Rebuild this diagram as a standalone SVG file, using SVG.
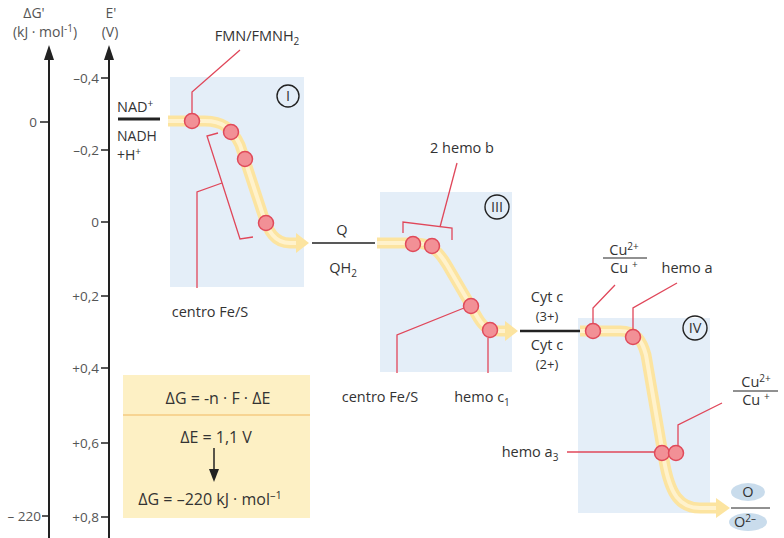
<svg xmlns="http://www.w3.org/2000/svg" width="784" height="538" viewBox="0 0 784 538">
<defs>
<style>
text{font-family:"Open Sans","Liberation Sans",sans-serif;fill:#333;}
.lab{font-size:14.5px;}
.ax{font-size:13.5px;fill:#555;text-anchor:end;}
.mid{text-anchor:middle;}
.box{fill:#e4eef8;}
.ypath{fill:none;stroke:#fce4a0;stroke-width:11;stroke-linejoin:round;}
.yin{fill:none;stroke:#fff2cc;stroke-width:4;stroke-linejoin:round;}
.yhead{fill:#fce4a0;}
.red{fill:none;stroke:#e0475a;stroke-width:1.3;}
.dot{fill:#f29096;stroke:#e04a5a;stroke-width:1.5;}
.num{fill:none;stroke:#222;stroke-width:1.4;}
.sup{font-size:10px;}
</style>
</defs>
<rect width="784" height="538" fill="#fff"/>

<g id="axes">
<line x1="49" y1="538" x2="49" y2="58" stroke="#222" stroke-width="2"/>
<polygon points="44,60 49,45 54,60" fill="#222"/>
<line x1="109" y1="538" x2="109" y2="58" stroke="#222" stroke-width="2"/>
<polygon points="104,60 109,45 114,60" fill="#222"/>
<text x="34" y="18" class="ax mid" style="font-size:14px">ΔG'</text>
<text x="45" y="37" class="ax mid" style="font-size:14px">(kJ · mol<tspan dy="-5" style="font-size:10px">-1</tspan><tspan dy="5">)</tspan></text>
<text x="111" y="18" class="ax mid" style="font-size:14px">E'</text>
<text x="110" y="37" class="ax mid" style="font-size:14px">(V)</text>
<g stroke="#222" stroke-width="1.5">
<line x1="40" y1="122" x2="49" y2="122"/>
<line x1="42" y1="516" x2="49" y2="516"/>
<line x1="101" y1="78" x2="109" y2="78"/>
<line x1="101" y1="150" x2="109" y2="150"/>
<line x1="101" y1="222" x2="109" y2="222"/>
<line x1="101" y1="296" x2="109" y2="296"/>
<line x1="101" y1="368" x2="109" y2="368"/>
<line x1="101" y1="443" x2="109" y2="443"/>
<line x1="101" y1="517" x2="109" y2="517"/>
</g>
<text x="37" y="127" class="ax">0</text>
<text x="41" y="521" class="ax">– 220</text>
<text x="99" y="83" class="ax">–0,4</text>
<text x="99" y="155" class="ax">–0,2</text>
<text x="99" y="227" class="ax">0</text>
<text x="99" y="301" class="ax">+0,2</text>
<text x="99" y="373" class="ax">+0,4</text>
<text x="99" y="448" class="ax">+0,6</text>
<text x="99" y="522" class="ax">+0,8</text>
</g>

<g id="complex-I">
<rect class="box" x="170" y="77" width="134" height="210"/>
<circle class="num" cx="288" cy="96" r="11"/>
<text x="288" y="101" class="lab mid">I</text>
</g>
<g id="complex-III">
<rect class="box" x="380" y="192" width="132" height="180"/>
<circle class="num" cx="497" cy="207" r="12"/>
<text x="497" y="212" class="lab mid">III</text>
</g>
<g id="complex-IV">
<rect class="box" x="578" y="318" width="132" height="195"/>
<circle class="num" cx="695" cy="328" r="12"/>
<text x="695" y="333" class="lab mid">IV</text>
</g>

<g id="formula">
<rect x="123" y="375" width="187" height="143" fill="#fdf0c4"/>
<line x1="123" y1="415" x2="310" y2="415" stroke="#f2b860" stroke-width="1.2"/>
<text x="218" y="404" class="mid" style="font-size:16px">ΔG = -n · F · ΔE</text>
<text x="216" y="443" class="mid" style="font-size:16px">ΔE = 1,1 V</text>
<line x1="214" y1="448" x2="214" y2="472" stroke="#222" stroke-width="1.5"/>
<polygon points="209,469 214,482 219,469" fill="#222"/>
<text x="210" y="505" class="mid" style="font-size:16px">ΔG = –220 kJ · mol<tspan dy="-6" style="font-size:11px">–1</tspan></text>
</g>

<g id="connectors">
<path class="ypath" d="M168,121 L205,121 C222,121 232,128 240,145 L262,212 C268,232 275,243 290,243 L298,243"/>
<path class="yin" d="M168,121 L205,121 C222,121 232,128 240,145 L262,212 C268,232 275,243 290,243 L298,243"/>
<polygon class="yhead" points="296,233 309,243 296,253"/>
<path class="ypath" d="M377,243 L415,243 C430,243 438,250 447,265 L478,318 C484,328 490,331 500,331 L507,331"/>
<path class="yin" d="M377,243 L415,243 C430,243 438,250 447,265 L478,318 C484,328 490,331 500,331 L507,331"/>
<polygon class="yhead" points="505,321 518,331 505,341"/>
<path class="ypath" d="M580,331 L620,331 C636,331 642,340 646,355 L664,460 C670,495 680,508 700,508 L718,508"/>
<path class="yin" d="M580,331 L620,331 C636,331 642,340 646,355 L664,460 C670,495 680,508 700,508 L718,508"/>
<polygon class="yhead" points="716,498 730,508 716,518"/>

<line x1="118" y1="119" x2="160" y2="119" stroke="#222" stroke-width="3"/>
<line x1="312" y1="243" x2="375" y2="243" stroke="#222" stroke-width="1.5"/>
<line x1="520" y1="331" x2="580" y2="331" stroke="#222" stroke-width="2.5"/>

<polyline class="red" points="240,50 192,92 192,114"/>
<polyline class="red" points="218,133 207,136 240,239 253,237"/>
<polyline class="red" points="222,183 197,192 197,288"/>
<polyline class="red" points="457,163 440,227"/>
<polyline class="red" points="403,233 403,222 452,228 452,240"/>
<polyline class="red" points="464,308 397,335 397,373"/>
<polyline class="red" points="488,338 488,373"/>
<polyline class="red" points="615,285 593,308 593,324"/>
<polyline class="red" points="677,283 633,308 633,331"/>
<polyline class="red" points="722,403 678,425 678,446"/>
<polyline class="red" points="567,452 654,452"/>
</g>

<g id="carriers">
<circle class="dot" cx="192" cy="121" r="7.5"/>
<circle class="dot" cx="231" cy="132" r="7.5"/>
<circle class="dot" cx="245" cy="159" r="7.5"/>
<circle class="dot" cx="266" cy="223" r="7.5"/>
<circle class="dot" cx="413" cy="244" r="7.5"/>
<circle class="dot" cx="432" cy="246" r="7.5"/>
<circle class="dot" cx="471" cy="306" r="7.5"/>
<circle class="dot" cx="490" cy="330" r="7.5"/>
<circle class="dot" cx="593" cy="331" r="7.5"/>
<circle class="dot" cx="633" cy="337" r="7.5"/>
<circle class="dot" cx="662" cy="453" r="7.5"/>
<circle class="dot" cx="676" cy="453" r="7.5"/>
</g>

<g id="labels">
<text x="117" y="112" class="lab">NAD<tspan dy="-5" class="sup">+</tspan></text>
<text x="117" y="141" class="lab" style="font-size:14px">NADH</text>
<text x="117" y="160" class="lab" style="font-size:14px">+H<tspan dy="-5" class="sup">+</tspan></text>
<text x="257" y="41" class="lab mid">FMN/FMNH<tspan dy="4" class="sup">2</tspan></text>
<text x="210" y="317" class="lab mid">centro Fe/S</text>
<text x="342" y="235" class="lab mid">Q</text>
<text x="343" y="273" class="lab mid">QH<tspan dy="4" class="sup">2</tspan></text>
<text x="462" y="153" class="lab mid">2 hemo b</text>
<text x="380" y="402" class="lab mid">centro Fe/S</text>
<text x="482" y="402" class="lab mid">hemo c<tspan dy="4" class="sup">1</tspan></text>
<text x="547" y="302" class="lab mid">Cyt c</text>
<text x="547" y="321" class="lab mid" style="font-size:13px">(3+)</text>
<text x="547" y="350" class="lab mid">Cyt c</text>
<text x="547" y="369" class="lab mid" style="font-size:13px">(2+)</text>
<text x="624" y="255" class="lab mid">Cu<tspan dy="-5" class="sup">2+</tspan></text>
<line x1="603" y1="258" x2="647" y2="258" stroke="#222" stroke-width="1"/>
<text x="624" y="273" class="lab mid">Cu <tspan dy="-5" class="sup">+</tspan></text>
<text x="687" y="273" class="lab mid">hemo a</text>
<text x="756" y="387" class="lab mid">Cu<tspan dy="-5" class="sup">2+</tspan></text>
<line x1="733" y1="391" x2="778" y2="391" stroke="#222" stroke-width="1"/>
<text x="756" y="405" class="lab mid">Cu <tspan dy="-5" class="sup">+</tspan></text>
<text x="530" y="457" class="lab mid">hemo a<tspan dy="4" class="sup">3</tspan></text>
<ellipse cx="748" cy="492" rx="17" ry="9" fill="#c9dcec"/>
<text x="748" y="497" class="lab mid">O</text>
<line x1="731" y1="508" x2="770" y2="508" stroke="#222" stroke-width="1"/>
<ellipse cx="748" cy="522" rx="19" ry="9" fill="#c9dcec"/>
<text x="745" y="527" class="lab mid">O<tspan dy="-5" class="sup">2–</tspan></text>
</g>
</svg>
